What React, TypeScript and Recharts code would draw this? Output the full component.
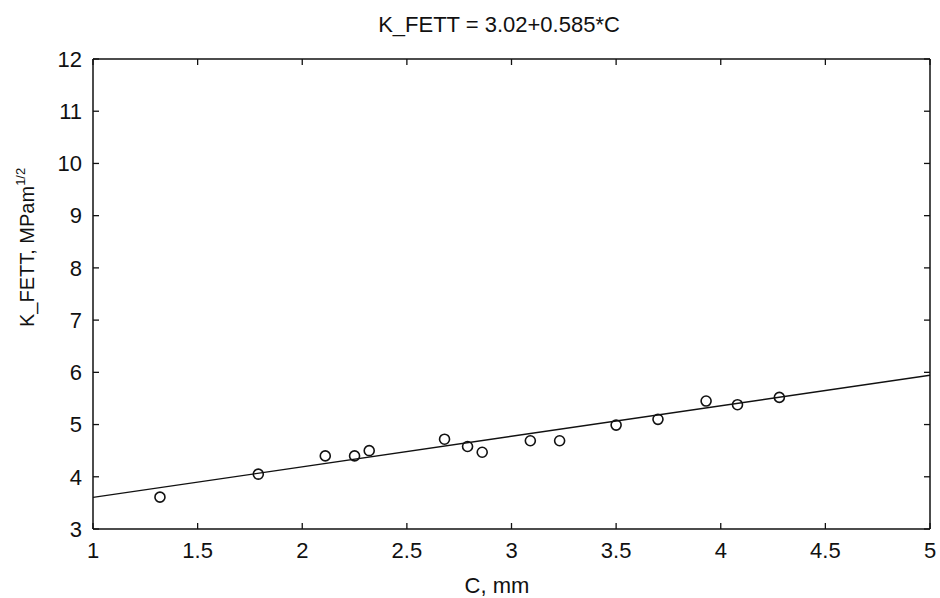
import { ComposedChart, Scatter, Line, XAxis, YAxis, Label } from 'recharts';

const cValues = [1.32, 1.79, 2.11, 2.25, 2.32, 2.68, 2.79, 2.86, 3.09, 3.23, 3.5, 3.7, 3.93, 4.08, 4.28];
const kValues = [3.61, 4.05, 4.4, 4.4, 4.5, 4.72, 4.58, 4.47, 4.69, 4.69, 4.99, 5.1, 5.45, 5.38, 5.52];

// regression line end points (K_FETT = 3.02 + 0.585*C)
const fitC = [1, 5];
const fitK = [3.605, 5.945];

const xTicks = [1, 1.5, 2, 2.5, 3, 3.5, 4, 4.5, 5];
const yTicks = [3, 4, 5, 6, 7, 8, 9, 10, 11, 12];

const points = cValues.map((c, i) => ({ c, k: kValues[i] }));
const fitLine = fitC.map((c, i) => ({ c, k: fitK[i] }));

const FONT = '"Liberation Sans", Arial, Helvetica, sans-serif';
const INK = '#111';

const tickStyle = { fill: INK, fontSize: 22, fontFamily: FONT };
const noLabel = () => '';

function OpenCircle(props: any) {
  const { cx, cy } = props;
  return <circle cx={cx} cy={cy} r={5} fill="none" stroke={INK} strokeWidth={1.6} />;
}

export default function App() {
  return (
    <div style={{ position: 'absolute', left: 0, top: 0, background: '#fff' }}>
      <ComposedChart
        width={940}
        height={598}
        margin={{ top: 49, right: 0, bottom: 29, left: 33 }}
      >
        <XAxis
          xAxisId="b"
          type="number"
          dataKey="c"
          domain={[1, 5]}
          ticks={xTicks}
          allowDataOverflow
          tickSize={-6}
          tickMargin={19}
          height={40}
          tick={tickStyle}
          axisLine={{ stroke: INK, strokeWidth: 1.5 }}
          tickLine={{ stroke: INK, strokeWidth: 1.3 }}
        >
          <Label
            content={() => (
              <text x={497} y={593} textAnchor="middle" fontSize={22} fontFamily={FONT} fill={INK}>
                C, mm
              </text>
            )}
          />
        </XAxis>
        <XAxis
          xAxisId="t"
          orientation="top"
          type="number"
          dataKey="c"
          domain={[1, 5]}
          ticks={xTicks}
          allowDataOverflow
          tickSize={-6}
          height={10}
          tickFormatter={noLabel}
          axisLine={{ stroke: INK, strokeWidth: 1.5 }}
          tickLine={{ stroke: INK, strokeWidth: 1.3 }}
        >
          <Label
            content={() => (
              <text x={499} y={32} textAnchor="middle" fontSize={22} fontFamily={FONT} fill={INK}>
                K_FETT = 3.02+0.585*C
              </text>
            )}
          />
        </XAxis>
        <YAxis
          yAxisId="l"
          type="number"
          dataKey="k"
          domain={[3, 12]}
          ticks={yTicks}
          allowDataOverflow
          tickSize={-6}
          tickMargin={17}
          width={60}
          tick={tickStyle}
          axisLine={{ stroke: INK, strokeWidth: 1.5 }}
          tickLine={{ stroke: INK, strokeWidth: 1.3 }}
        >
          <Label
            content={() => (
              <text
                transform="rotate(-90)"
                x={-327}
                y={34}
                textAnchor="start"
                fontSize={20}
                fontFamily={FONT}
                fill={INK}
              >
                K_FETT, MPam
                <tspan dy={-9} fontSize={13}>1/2</tspan>
              </text>
            )}
          />
        </YAxis>
        <YAxis
          yAxisId="r"
          orientation="right"
          type="number"
          dataKey="k"
          domain={[3, 12]}
          ticks={yTicks}
          allowDataOverflow
          tickSize={-6}
          width={10}
          tickFormatter={noLabel}
          axisLine={{ stroke: INK, strokeWidth: 1.5 }}
          tickLine={{ stroke: INK, strokeWidth: 1.3 }}
        />
        <Line
          xAxisId="b"
          yAxisId="l"
          data={fitLine}
          dataKey="k"
          type="linear"
          stroke={INK}
          strokeWidth={1.4}
          dot={false}
          activeDot={false}
          isAnimationActive={false}
        />
        <Scatter
          xAxisId="b"
          yAxisId="l"
          data={points}
          dataKey="k"
          shape={OpenCircle}
          isAnimationActive={false}
        />
      </ComposedChart>
    </div>
  );
}
